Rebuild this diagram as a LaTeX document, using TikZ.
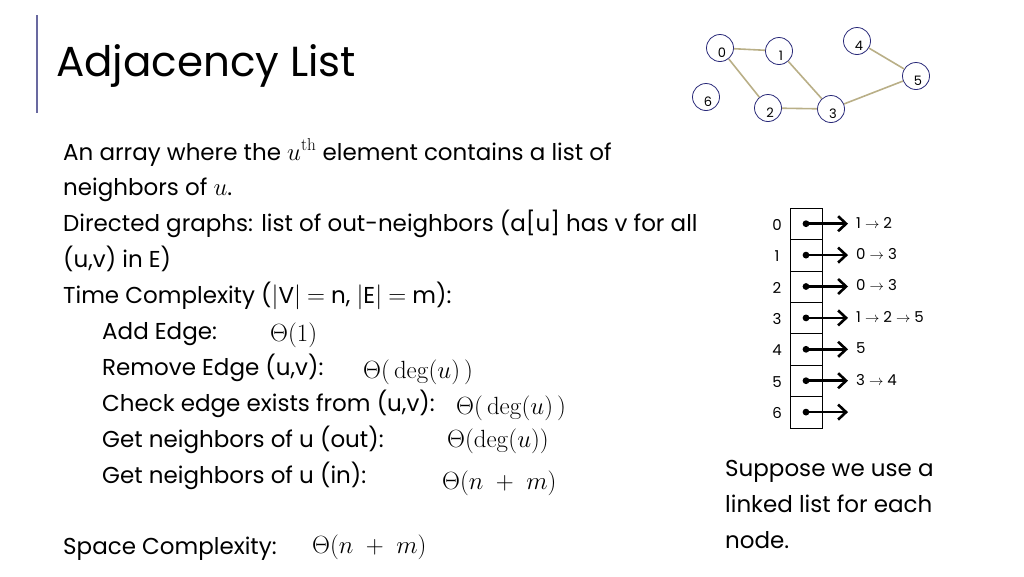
\documentclass[tikz,border=0pt]{standalone}
\usepackage[no-math]{fontspec}
\setmainfont{Poppins}
\usetikzlibrary{arrows.meta}
\definecolor{navy}{RGB}{40,40,120}
\definecolor{tan}{RGB}{185,175,135}
\begin{document}
\begin{tikzpicture}[x=1pt,y=-1pt,
  txt/.style={anchor=base west,inner sep=0,font=\fontsize{23}{24}\selectfont},
  mth/.style={anchor=base west,inner sep=0,font=\fontsize{24}{24}\selectfont},
  vert/.style={draw=navy,circle,minimum size=27pt,inner sep=0,thick},
  vlab/.style={font=\fontsize{13}{14}\selectfont},
  edge/.style={draw=tan,line width=1.6pt},
  cell/.style={draw,minimum width=32pt,minimum height=31.4pt,inner sep=0},
  idx/.style={font=\fontsize{15}{16}\selectfont},
  lst/.style={anchor=west,inner sep=0,font=\fontsize{15}{16}\selectfont},
  ptr/.style={line width=2.6pt,-{Straight Barb[length=8pt,width=15pt,line width=2.6pt]}}]
\useasboundingbox (0,0) rectangle (1024,576);
\draw[navy!70,line width=1.2pt] (37,15) -- (37,113);
\node[anchor=base west,inner sep=0,font=\fontsize{42}{44}\selectfont] (title) at (56,76) {Adjacency List};
% graph
\foreach \n/\x/\y in {0/720/48,1/779/51,4/857/41,5/916/76,6/706/97,2/768/108,3/831/109}
  \node[vert,label={[vlab,yshift=-5pt,xshift=2pt]center:\n}] (v\n) at (\x,\y) {};
\draw[edge] (v0) -- (v1); \draw[edge] (v0) -- (v2); \draw[edge] (v1) -- (v3);
\draw[edge] (v2) -- (v3); \draw[edge] (v3) -- (v5); \draw[edge] (v4) -- (v5);
% text
\node[txt] (t1) at (63,160) {An array where the $u^{\mathrm{th}}$ element contains a list of};
\node[txt] (t2) at (63,195) {neighbors of $u$.};
\node[txt] (t3) at (63,231) {Directed graphs: list of out-neighbors (a[u] has v for all};
\node[txt] (t4) at (63,267) {(u,v) in E)};
\node[txt] (t5) at (63,303) {Time Complexity ($|$V$|$ $=$ n, $|$E$|$ $=$ m):};
\node[txt] (t6) at (102,339) {Add Edge:};
\node[txt] (t7) at (102,375) {Remove Edge (u,v):};
\node[txt] (t8) at (102,411) {Check edge exists from (u,v):};
\node[txt] (t9) at (102,447) {Get neighbors of u (out):};
\node[txt] (t10) at (102,483) {Get neighbors of u (in):};
\node[txt] (t11) at (63,554) {Space Complexity:};
\node[mth] (m6) at (270,341) {$\Theta(1)$};
\node[mth] (m7) at (363,378) {$\Theta(\,\deg(u)\,)$};
\node[mth] (m8) at (456,414) {$\Theta(\,\deg(u)\,)$};
\node[mth] (m9) at (447,447) {$\Theta(\deg(u))$};
\node[mth] (m10) at (442,489) {$\Theta(n\;+\;m)$};
\node[mth] (m11) at (312,553) {$\Theta(n\;+\;m)$};
\node[txt,align=left,anchor=north west,font=\fontsize{23}{36}\selectfont] (sup) at (725,460) {Suppose we use a\\linked list for each\\node.};
% array
\foreach \i/\l in {0/{1 $\rightarrow$ 2},1/{0 $\rightarrow$ 3},2/{0 $\rightarrow$ 3},3/{1 $\rightarrow$ 2 $\rightarrow$ 5},4/{5},5/{3 $\rightarrow$ 4},6/{}}{
  \node[cell] (c\i) at (806,{223.7+31.4*\i}) {};
  \node[idx] (i\i) at (777,{225+31.4*\i}) {\i};
  \coordinate (e\i) at (848,{223.7+31.4*\i});
  \node[lst] (l\i) at (856,{222.7+31.4*\i}) {\l};
  \fill (c\i.center) circle (3.4pt);
  \draw[ptr] (c\i.center) -- (e\i);
}
\end{tikzpicture}
\end{document}
